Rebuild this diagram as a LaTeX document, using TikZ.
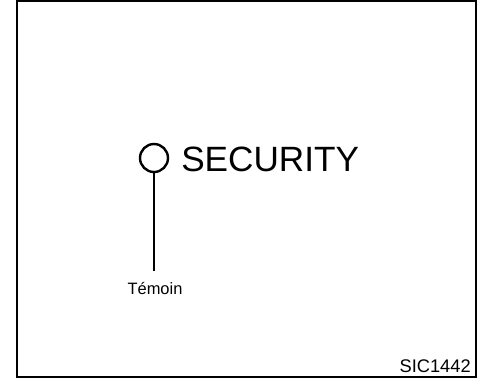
\documentclass[tikz,border=0pt]{standalone}
\usepackage{fontspec}
\setmainfont{Liberation Sans}
\usetikzlibrary{positioning}

\begin{document}
\begin{tikzpicture}[x=0.25mm,y=-0.25mm]
    \useasboundingbox (0,0) rectangle (480,379);
    % Cadre
    \draw[line width=0.6mm] (17,1) rectangle (476,377);
    % Voyant et texte
    \node[circle, draw, line width=0.6mm, minimum size=7mm, inner sep=0] (voyant) at (154,158) {};
    \node[anchor=base west, font=\fontsize{25}{28}\selectfont, inner sep=0] (security) at (181,171) {SECURITY};
    % Etiquette
    \node[anchor=base, font=\fontsize{11.7}{14}\selectfont, inner sep=0] (temoin) at (155,294) {Témoin};
    \coordinate (bas) at (154,271);
    \draw[line width=0.45mm] (voyant.south) -- (bas);
    % Reference
    \node[anchor=base east, font=\fontsize{13}{15}\selectfont, inner sep=0] (ref) at (471,372) {SIC1442};
\end{tikzpicture}
\end{document}
